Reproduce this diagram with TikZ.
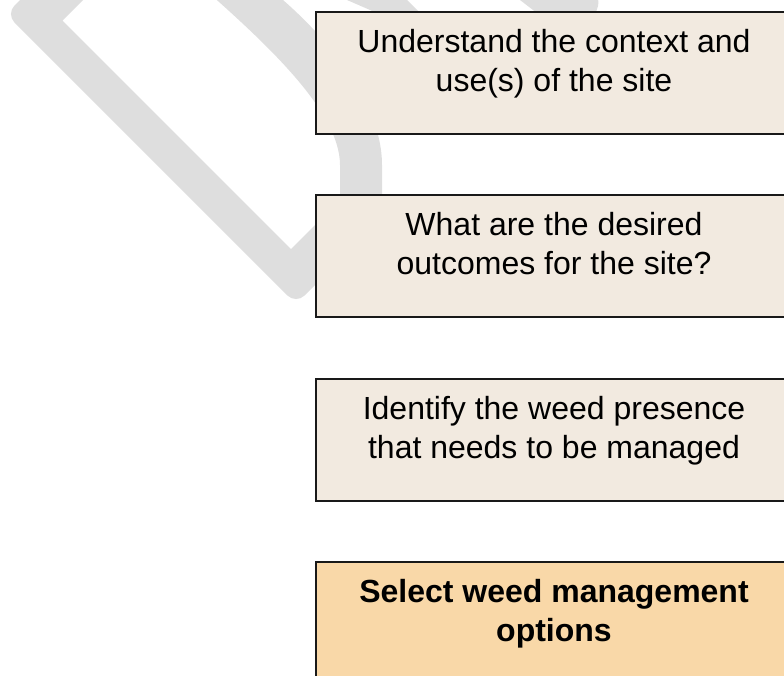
\documentclass[tikz,border=0pt]{standalone}
\usepackage{fontspec}
\setmainfont{Liberation Sans}
\definecolor{bandgray}{RGB}{222,222,222}
\definecolor{boxbeige}{RGB}{242,234,224}
\definecolor{boxorange}{RGB}{249,216,168}
\begin{document}
\begin{tikzpicture}[x=1pt,y=-1pt,
  stepbox/.style={draw=black!90, line width=1.7pt, rectangle, minimum width=490pt, minimum height=122pt, anchor=north west, inner sep=0pt},
  steptext/.style={font=\fontsize{32pt}{38.5pt}\selectfont, align=center, anchor=north, inner sep=0pt, text=black},
  boldtext/.style={steptext, font=\bfseries\fontsize{32pt}{38.5pt}\selectfont}]
\useasboundingbox (0,0) rectangle (784,675);
\clip (0,0) rectangle (784,675);
% faded background arrow
\fill[bandgray] (40,-20) [rounded corners=12pt] -- (6,14) -- (296,304) -- (330,270) [sharp corners] -- (392,208) -- (382,196) -- (382,165) .. controls (382,100) and (322,30) .. (265,-15) -- (200,-15) .. controls (262,40) and (340,110) .. (340,165) -- (340,200) -- (291,249) -- (62.5,20.5) -- (103,-20) -- cycle;
\fill[bandgray] (324,-10) -- (397,-10) -- (427,20) -- (393,20) -- cycle;
\fill[bandgray] (507,-10) -- (585,-10) .. controls (602,-10) and (602,10) .. (590,18) -- (546,20) -- cycle;
% boxes
\node[stepbox, fill=boxbeige] (b1) at (315,11) {};
\node[stepbox, fill=boxbeige] (b2) at (315,194) {};
\node[stepbox, fill=boxbeige] (b3) at (315,378) {};
\node[stepbox, fill=boxorange] (b4) at (315,561) {};
% texts
\node[steptext] (t1) at (554,29.5) {Understand the context and\\use(s) of the site};
\node[steptext] (t2) at (554,212.5) {What are the desired\\outcomes for the site?};
\node[steptext] (t3) at (554,396.5) {Identify the weed presence\\that needs to be managed};
\node[boldtext] (t4) at (554,579.5) {Select weed management\\options};
\end{tikzpicture}
\end{document}
